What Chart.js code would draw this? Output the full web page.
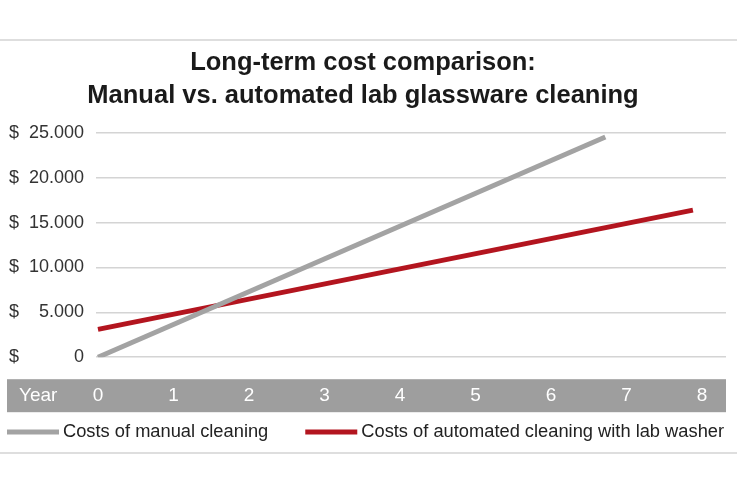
<!DOCTYPE html>
<html>
<head>
<meta charset="utf-8">
<title>Long-term cost comparison</title>
<script src="https://cdn.jsdelivr.net/npm/chart.js@4/dist/chart.umd.min.js"></script>
<style>
  html, body { margin: 0; padding: 0; background: #fff; }
  canvas { display: block; }
</style>
</head>
<body>
<canvas id="costChart" width="737" height="491"></canvas>
<script>
// data
var yearTicks = [0, 1, 2, 3, 4, 5, 6, 7, 8];
var costTicks = [0, 5000, 10000, 15000, 20000, 25000];
var manualYears = [0, 6.72];
var manualCosts = [0, 24550];
var autoYears = [0, 7.88];
var autoCosts = [3100, 16400];
var seriesNames = ["Costs of manual cleaning", "Costs of automated cleaning with lab washer"];
var seriesColors = ["#a3a3a3", "#b3151f"];

var FONT = "'Liberation Sans', Arial, Helvetica, sans-serif";

function toPoints(xs, ys) {
  return xs.map(function (x, i) { return { x: x, y: ys[i] }; });
}
function dotted(v) {
  return String(v).replace(/\B(?=(\d{3})+(?!\d))/g, ".");
}

// band under the x axis, "$" signs, "Year", separators and the legend
var decor = {
  id: 'decor',
  beforeDraw: function (chart) {
    var ctx = chart.ctx, y = chart.scales.y, area = chart.chartArea;
    ctx.save();
    ctx.fillStyle = "#fff";
    ctx.fillRect(0, 0, chart.width, chart.height);

    ctx.strokeStyle = "#d4d4d4";
    ctx.lineWidth = 1.5;
    ctx.beginPath();
    ctx.moveTo(0, 40); ctx.lineTo(chart.width, 40);
    ctx.moveTo(0, 453); ctx.lineTo(chart.width, 453);
    ctx.stroke();

    var bandTop = area.bottom + 22, bandH = 33;
    ctx.fillStyle = "#9e9e9e";
    ctx.fillRect(7, bandTop, area.right - 7, bandH);

    ctx.fillStyle = "#fff";
    ctx.font = "19px " + FONT;
    ctx.textBaseline = "middle";
    ctx.textAlign = "left";
    ctx.fillText("Year", 19, bandTop + bandH / 2);

    ctx.fillStyle = "#333";
    ctx.font = "18px " + FONT;
    costTicks.forEach(function (v) {
      ctx.fillText("$", 9, y.getPixelForValue(v));
    });
    ctx.restore();
  },
  afterDraw: function (chart) {
    var ctx = chart.ctx;
    ctx.save();
    ctx.font = "18.3px " + FONT;
    ctx.textBaseline = "middle";
    ctx.textAlign = "left";
    var cx = 7, ly = 432;
    chart.data.datasets.forEach(function (ds) {
      ctx.strokeStyle = ds.borderColor;
      ctx.lineWidth = 5;
      ctx.beginPath();
      ctx.moveTo(cx, ly); ctx.lineTo(cx + 52, ly);
      ctx.stroke();
      ctx.fillStyle = "#222";
      ctx.fillText(ds.label, cx + 56, ly);
      cx += 56 + ctx.measureText(ds.label).width + 37;
    });
    ctx.restore();
  }
};

new Chart(document.getElementById("costChart").getContext('2d'), {
  type: 'line',
  data: {
    datasets: [{
      label: seriesNames[0],
      data: toPoints(manualYears, manualCosts),
      borderColor: seriesColors[0],
      backgroundColor: seriesColors[0],
      borderWidth: 5,
      pointRadius: 0,
      borderCapStyle: 'butt'
    }, {
      label: seriesNames[1],
      data: toPoints(autoYears, autoCosts),
      borderColor: seriesColors[1],
      backgroundColor: seriesColors[1],
      borderWidth: 5,
      pointRadius: 0,
      borderCapStyle: 'butt'
    }]
  },
  options: {
    responsive: false,
    animation: false,
    layout: { padding: { left: 0, right: 11, top: 0, bottom: 57 } },
    plugins: {
      legend: { display: false },
      tooltip: { enabled: false },
      title: {
        display: true,
        text: ["Long-term cost comparison:", "Manual vs. automated lab glassware cleaning"],
        color: "#1a1a1a",
        font: { family: FONT, size: 25.5, weight: 'bold', lineHeight: 1.3 },
        padding: { top: 46.5, bottom: 20.2 }
      }
    },
    scales: {
      x: {
        type: 'linear',
        min: -0.026,
        max: 8.318,
        afterBuildTicks: function (scale) {
          scale.ticks = yearTicks.map(function (v) { return { value: v }; });
        },
        grid: { display: false, drawTicks: false },
        border: { display: false },
        ticks: {
          color: "#fff",
          padding: 27,
          maxRotation: 0,
          font: { family: FONT, size: 19 }
        }
      },
      y: {
        min: 0,
        max: 25000,
        afterBuildTicks: function (scale) {
          scale.ticks = costTicks.map(function (v) { return { value: v }; });
        },
        afterFit: function (scale) { scale.width = 96; },
        grid: { color: "#d4d4d4", lineWidth: 1.5, drawTicks: false },
        border: { display: false },
        ticks: {
          color: "#333",
          padding: 12,
          font: { family: FONT, size: 18 },
          callback: function (v) { return dotted(v); }
        }
      }
    }
  },
  plugins: [decor]
});
</script>
</body>
</html>
